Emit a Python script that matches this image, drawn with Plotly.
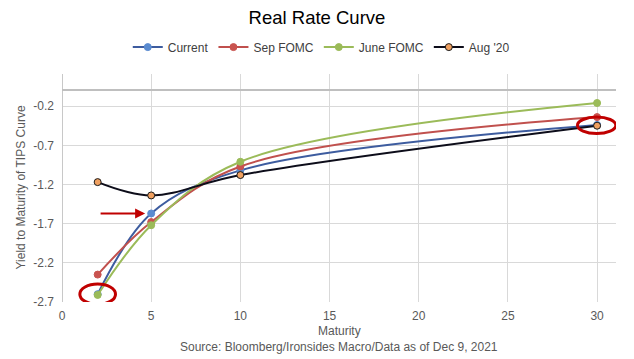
import plotly.graph_objects as go

maturity = [2, 5, 10, 30]
current = [-2.60, -1.57, -1.02, -0.44]
sep_fomc = [-2.35, -1.68, -0.97, -0.34]
june_fomc = [-2.61, -1.72, -0.91, -0.16]
aug_20 = [-1.17, -1.34, -1.08, -0.45]

y_ticks = [-2.7, -2.2, -1.7, -1.2, -0.7, -0.2]
x_ticks = [0, 5, 10, 15, 20, 25, 30]

series = [
    ("Current", current, "#3d5c9f", "#5a8bd0", "#5a8bd0"),
    ("Sep FOMC", sep_fomc, "#c0504d", "#c9534f", "#c9534f"),
    ("June FOMC", june_fomc, "#9bbb59", "#9bbb59", "#9bbb59"),
    ("Aug '20", aug_20, "#0d0d1a", "#f0a060", "#1a1a1a"),
]

fig = go.Figure()
for name, vals, lc, mc, ec in series:
    fig.add_trace(go.Scatter(
        x=maturity, y=vals, name=name, mode="lines+markers",
        line=dict(color=lc, width=2, shape="spline", smoothing=1.0),
        marker=dict(color=mc, size=7, line=dict(color=ec, width=1)),
    ))

font = "Liberation Sans, Arial, sans-serif"
fig.update_layout(
    width=634, height=359,
    margin=dict(l=62, r=18, t=74, b=57),
    paper_bgcolor="white", plot_bgcolor="white",
    font=dict(family=font, size=12, color="#595959"),
    title=dict(text="Real Rate Curve", x=0.5, xanchor="center", y=0.95, yanchor="middle",
               font=dict(family=font, size=18.5, color="#000000")),
    legend=dict(orientation="h", x=0.468, xanchor="center", y=1.118, yanchor="middle",
                font=dict(family=font, size=12, color="#404040"), itemwidth=30,
                tracegroupgap=0),
    showlegend=True,
)
fig.update_xaxes(range=[0, 31.06], tickvals=x_ticks, showgrid=True, gridcolor="#d9d9d9",
                 zeroline=True, zerolinecolor="#c8c8c8", zerolinewidth=1,
                 showline=False, ticks="", ticklabelstandoff=5,
                 tickfont=dict(size=12, color="#595959"))
fig.update_yaxes(range=[-2.7, 0.21], tickvals=y_ticks, ticktext=[f"{v:.1f}" for v in y_ticks],
                 showgrid=True, gridcolor="#d9d9d9",
                 zeroline=True, zerolinecolor="#bfbfbf", zerolinewidth=1.5,
                 showline=False, ticks="", ticklabelstandoff=7,
                 tickfont=dict(size=12, color="#595959"))

# axis titles and source
fig.add_annotation(text="Yield to Maturity of TIPS Curve", xref="paper", yref="paper",
                   x=-0.0749, y=0.5, textangle=-90, showarrow=False,
                   xanchor="center", yanchor="middle", font=dict(size=12, color="#595959"))
fig.add_annotation(text="Maturity", xref="paper", yref="paper", x=0.5, y=-0.127,
                   showarrow=False, yanchor="middle", font=dict(size=12, color="#595959"))
fig.add_annotation(text="Source: Bloomberg/Ironsides Macro/Data as of Dec 9, 2021",
                   xref="paper", yref="paper", x=0.5, y=-0.197, showarrow=False,
                   yanchor="middle", font=dict(size=12, color="#595959"))

# red arrow pointing at current 5y
fig.add_annotation(x=4.66, y=current[1], ax=2.08, ay=current[1], xref="x", yref="y",
                   axref="x", ayref="y", showarrow=True, arrowhead=2, arrowsize=1,
                   arrowwidth=2, arrowcolor="#c00000", text="")

# red ellipses
fig.add_shape(type="circle", xref="x", yref="y", x0=1.0, x1=3.0, y0=-2.73, y1=-2.47,
              line=dict(color="#c00000", width=3))
fig.add_shape(type="circle", xref="x", yref="y", x0=28.9, x1=31.05, y0=-0.55, y1=-0.34,
              line=dict(color="#c00000", width=3))

fig.write_html("out.html", config={"displayModeBar": False},
               post_script="document.body.style.margin='0';")
